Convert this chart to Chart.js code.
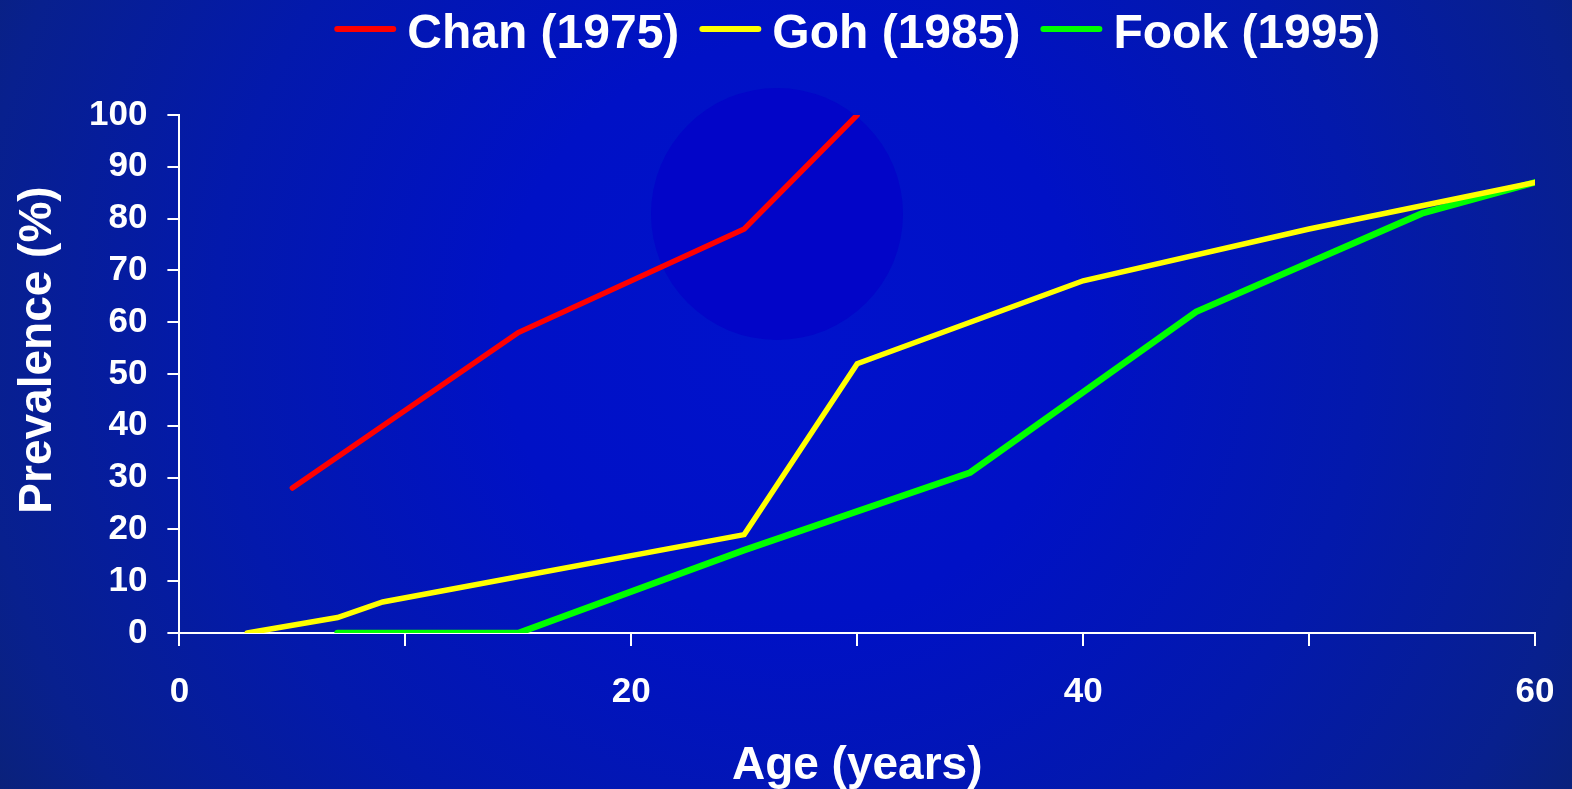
<!DOCTYPE html>
<html>
<head>
<meta charset="utf-8">
<title>Prevalence by age</title>
<script src="https://cdn.jsdelivr.net/npm/chart.js@4.4.1/dist/chart.umd.min.js"></script>
<style>
  html, body { margin: 0; padding: 0; background: #0a2080; }
  #wrap { width: 1572px; height: 789px; position: relative; }
</style>
</head>
<body>
<div id="wrap"><canvas id="chart"></canvas></div>
<script>
// Survey series: age (years) and prevalence (%)
const chanAge  = [5, 15, 25, 30];
const chanPrev = [28, 58, 78, 100];

const gohAge  = [3, 7, 9, 25, 30, 40, 50, 60];
const gohPrev = [0, 3, 6, 19, 52, 68, 78, 87];

const fookAge  = [7, 15, 25, 35, 45, 55, 60];
const fookPrev = [0, 0, 16, 31, 62, 81, 87];

const seriesLabels = ['Chan (1975)', 'Goh (1985)', 'Fook (1995)'];
const seriesColors = ['#ff0000', '#ffff00', '#00ff00'];

const xTickLabels = [0, 20, 40, 60];
const xAxisTitle = 'Age (years)';
const yAxisTitle = 'Prevalence (%)';

const FONT = '"Liberation Sans", Arial, Helvetica, sans-serif';

const toPoints = (xs, ys) => xs.map((x, i) => ({ x: x, y: ys[i] }));

// Blue slide backdrop with a soft radial glow and a darker disc
const backdrop = {
  id: 'backdrop',
  beforeDraw(chart) {
    const ctx = chart.ctx;
    const w = chart.width, h = chart.height;
    ctx.save();
    const g = ctx.createRadialGradient(790, 330, 0, 790, 330, 960);
    g.addColorStop(0.0, '#0012cc');
    g.addColorStop(0.3, '#0011c6');
    g.addColorStop(0.6, '#0319ac');
    g.addColorStop(0.85, '#08208e');
    g.addColorStop(1.0, '#0b2272');
    ctx.fillStyle = g;
    ctx.fillRect(0, 0, w, h);
    ctx.beginPath();
    ctx.arc(777, 214, 126, 0, Math.PI * 2);
    ctx.fillStyle = '#0205c8';
    ctx.fill();
    ctx.restore();
  }
};

// Legend row and rotated y-axis title
const annotations = {
  id: 'annotations',
  afterDraw(chart) {
    const ctx = chart.ctx;
    const area = chart.chartArea;
    ctx.save();
    ctx.font = 'bold 48px ' + FONT;
    ctx.textBaseline = 'alphabetic';
    ctx.textAlign = 'left';
    const boxW = 62, gapBoxText = 11, gapItems = 20;
    const items = chart.data.datasets.map(ds => ({
      label: ds.label, color: ds.borderColor, w: ctx.measureText(ds.label).width
    }));
    let total = 0;
    items.forEach((it, i) => { total += boxW + gapBoxText + it.w + (i ? gapItems : 0); });
    let x = (area.left + area.right) / 2 - total / 2;
    items.forEach(it => {
      ctx.beginPath();
      ctx.strokeStyle = it.color;
      ctx.lineWidth = 6;
      ctx.lineCap = 'round';
      ctx.moveTo(x + 3, 29);
      ctx.lineTo(x + boxW - 3, 29);
      ctx.stroke();
      ctx.fillStyle = '#ffffff';
      ctx.fillText(it.label, x + boxW + gapBoxText, 48);
      x += boxW + gapBoxText + it.w + gapItems;
    });

    ctx.translate(38, 350);
    ctx.rotate(-Math.PI / 2);
    ctx.font = 'bold 46px ' + FONT;
    ctx.textAlign = 'center';
    ctx.textBaseline = 'middle';
    ctx.fillStyle = '#ffffff';
    ctx.fillText(yAxisTitle, 0, 0);
    ctx.restore();
  }
};

new Chart(document.getElementById('chart'), {
  type: 'scatter',
  data: {
    datasets: [
      { label: seriesLabels[0], data: toPoints(chanAge, chanPrev), borderColor: seriesColors[0], borderWidth: 5.5 },
      { label: seriesLabels[1], data: toPoints(gohAge, gohPrev), borderColor: seriesColors[1], borderWidth: 5.5 },
      { label: seriesLabels[2], data: toPoints(fookAge, fookPrev), borderColor: seriesColors[2], borderWidth: 6.5 }
    ].map(ds => Object.assign(ds, {
      showLine: true, pointRadius: 0, pointHoverRadius: 0, tension: 0,
      backgroundColor: ds.borderColor, borderCapStyle: 'round', fill: false
    }))
  },
  options: {
    responsive: true,
    maintainAspectRatio: false,
    animation: false,
    events: [],
    layout: { padding: { left: 69, right: 37, top: 115, bottom: 0 } },
    plugins: { legend: { display: false }, tooltip: { enabled: false } },
    scales: {
      x: {
        type: 'linear', min: 0, max: 60,
        border: { display: true, color: '#ffffff', width: 2 },
        grid: { display: true, drawOnChartArea: false, drawTicks: true, tickLength: 13, color: '#ffffff', lineWidth: 2 },
        ticks: {
          stepSize: 10, autoSkip: false, maxRotation: 0, padding: 5, color: '#ffffff',
          font: { family: FONT, size: 35, weight: 'bold', lineHeight: 2.37 },
          callback: v => xTickLabels.includes(v) ? String(v) : ''
        },
        title: {
          display: true, text: xAxisTitle, color: '#ffffff',
          font: { family: FONT, size: 46, weight: 'bold', lineHeight: 1 },
          padding: { top: 4, bottom: 0 }
        }
      },
      y: {
        type: 'linear', min: 0, max: 100,
        border: { display: true, color: '#ffffff', width: 2 },
        grid: { display: true, drawOnChartArea: false, drawTicks: true, tickLength: 12, color: '#ffffff', lineWidth: 2 },
        ticks: {
          stepSize: 10, autoSkip: false, padding: 20, color: '#ffffff',
          font: { family: FONT, size: 35, weight: 'bold' }
        }
      }
    }
  },
  plugins: [backdrop, annotations]
});
</script>
</body>
</html>
